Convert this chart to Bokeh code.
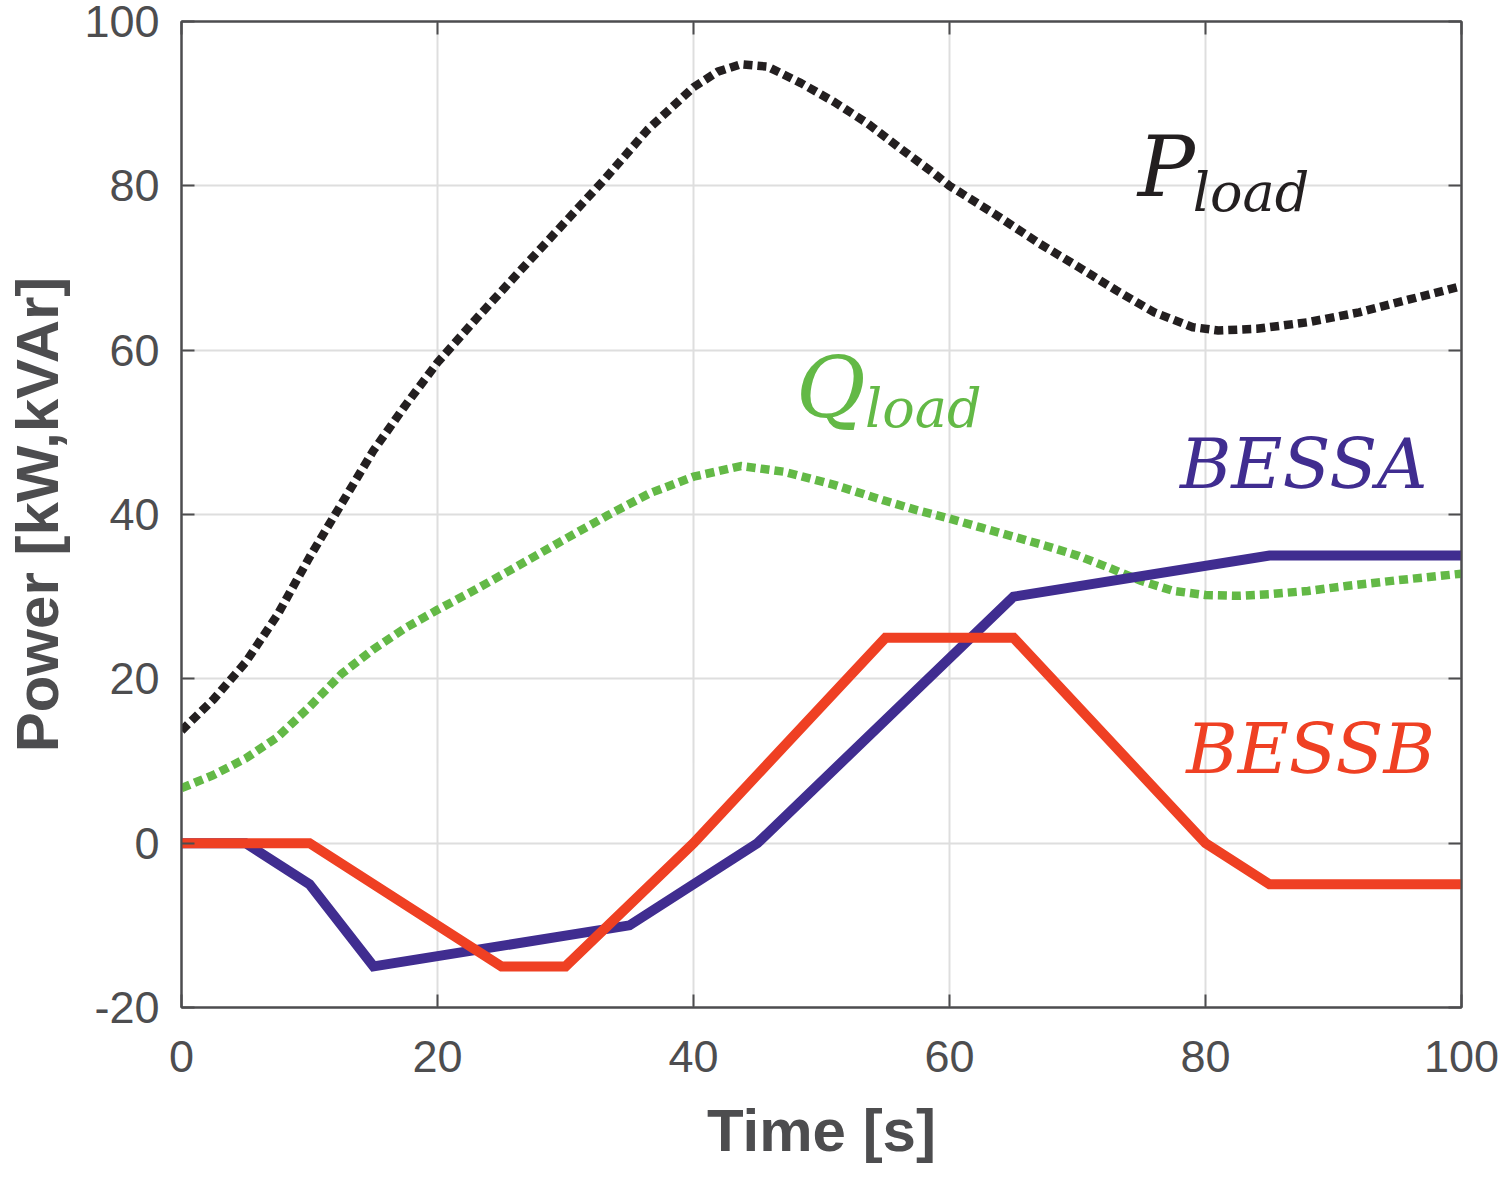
from bokeh.plotting import figure
from bokeh.models import LinearAxis, SingleIntervalTicker, Range1d, CustomJSTickFormatter
from bokeh.core.properties import value
from bokeh.embed import file_html
from bokeh.resources import INLINE

# ---- data ----
t_p = [0, 2.5, 5, 7.5, 10, 12.5, 15, 17.5, 20, 22.9, 26.3, 29.5, 33, 36.4, 40,
       41.9, 43.7, 45.8, 48.4, 51, 53.6, 56.2, 58.8, 60, 63.5, 67, 70, 73, 76, 79, 81, 84, 88, 92, 96, 100]
p_load = [13.7, 17.5, 22, 27.8, 34.8, 41.3, 47.8, 53.3, 58.5, 63.6, 69.4, 74.8, 80.7, 86.8, 92,
          93.9, 94.8, 94.5, 92.5, 90.2, 87.6, 84.5, 81.5, 80, 76.6, 73, 70.2, 67.3, 64.6, 62.8, 62.4, 62.6, 63.4, 64.6, 66.2, 67.8]

t_q = [0, 2.5, 5, 7.5, 10, 12.5, 15, 17.5, 20, 22.9, 26, 29.5, 33.3, 36.6, 40, 43.7, 47.1, 51, 54.9, 57.5,
       60, 62.5, 65, 67.5, 70, 72.5, 75, 77.5, 80, 82.5, 85, 88, 91, 95, 100]
q_load = [6.7, 8.3, 10.3, 12.9, 16.6, 20.6, 23.6, 26.2, 28.4, 30.8, 33.5, 36.6, 39.9, 42.6, 44.6, 45.9, 45.2, 43.6, 41.7, 40.5,
          39.5, 38.4, 37.3, 36.2, 35.0, 33.5, 31.9, 30.7, 30.2, 30.1, 30.3, 30.7, 31.3, 32, 32.8]

t_a = [0, 5, 10, 15, 35, 45, 65, 85, 100]
bess_a = [0, 0, -5, -15, -10, 0, 30, 35, 35]

t_b = [0, 10, 25, 30, 40, 55, 65, 80, 85, 100]
bess_b = [0, 0, -15, -15, 0, 25, 25, 0, -5, -5]

x_ticks_step = 20
y_ticks_step = 20
y_tick_label_overrides = {-20: "-20"}

C_P = "#231f20"
C_Q = "#63b946"
C_A = "#402d90"
C_B = "#ef4023"
AX = "#4d4d4f"

p = figure(width=1508, height=1177, frame_width=1280, frame_height=986,
           output_backend="svg", toolbar_location=None,
           x_range=Range1d(0, 100), y_range=Range1d(-20, 100),
           min_border_left=181, min_border_top=21, min_border_right=47, min_border_bottom=170)

p.background_fill_color = "white"
p.border_fill_color = "white"
p.outline_line_color = AX
p.outline_line_width = 2

def style_axis(ax):
    ax.axis_line_color = AX
    ax.axis_line_width = 2
    ax.major_tick_line_color = AX
    ax.major_tick_line_width = 2
    ax.major_tick_in = 13
    ax.major_tick_out = 0
    ax.minor_tick_line_color = None
    ax.major_label_text_color = AX
    ax.major_label_text_font = "Liberation Sans"
    ax.major_label_text_font_size = "45px"
    ax.axis_label_text_color = AX
    ax.axis_label_text_font = "Liberation Sans"
    ax.axis_label_text_font_style = "bold"
    ax.axis_label_text_font_size = "60px"

p.xaxis.ticker = SingleIntervalTicker(interval=x_ticks_step)
p.yaxis.ticker = SingleIntervalTicker(interval=y_ticks_step)
p.xaxis.axis_label = "Time [s]"
p.yaxis.axis_label = "Power [kW,kVAr]"
style_axis(p.xaxis[0])
style_axis(p.yaxis[0])
p.yaxis.major_label_overrides = y_tick_label_overrides
p.xaxis.major_label_standoff = 29
p.yaxis.major_label_standoff = 18
p.xaxis.axis_label_standoff = 22
p.yaxis.axis_label_standoff = 10

blank = CustomJSTickFormatter(code="return ''")
ra = LinearAxis(ticker=SingleIntervalTicker(interval=y_ticks_step), formatter=blank)
style_axis(ra)
ra.major_label_standoff = 0
p.add_layout(ra, "right")
ta = LinearAxis(ticker=SingleIntervalTicker(interval=x_ticks_step), formatter=blank)
style_axis(ta)
ta.major_label_standoff = 0
p.add_layout(ta, "above")

for g in (p.xgrid[0], p.ygrid[0]):
    g.grid_line_color = "#dedede"
    g.grid_line_width = 2
    g.ticker = SingleIntervalTicker(interval=20)

p.line(t_p, p_load, line_color=C_P, line_width=8.5, line_dash="9 5", line_cap="butt", line_join="round")
p.line(t_q, q_load, line_color=C_Q, line_width=8.5, line_dash="9 5", line_cap="butt", line_join="round")
p.line(t_a, bess_a, line_color=C_A, line_width=10, line_join="miter")
p.line(t_b, bess_b, line_color=C_B, line_width=10, line_join="miter")

SERIF = value("DejaVu Serif")
p.text(x=[74.7], y=[82.4], text=["P"], text_font=SERIF, text_font_style="italic",
       text_font_size="85px", text_color=C_P, text_baseline="alphabetic")
p.text(x=[79.0], y=[79.2], text=["load"], text_font=SERIF, text_font_style="italic",
       text_font_size="54px", text_color=C_P, text_baseline="alphabetic")
p.text(x=[48.0], y=[55.4], text=["Q"], text_font=SERIF, text_font_style="italic",
       text_font_size="85px", text_color=C_Q, text_baseline="alphabetic")
p.text(x=[53.4], y=[52.9], text=["load"], text_font=SERIF, text_font_style="italic",
       text_font_size="54px", text_color=C_Q, text_baseline="alphabetic")
p.text(x=[78.0], y=[46.1], text=["BESSA"], text_font=SERIF, text_font_style="italic",
       text_font_size="70px", text_color=C_A, text_baseline="alphabetic")
p.text(x=[78.5], y=[11.4], text=["BESSB"], text_font=SERIF, text_font_style="italic",
       text_font_size="70px", text_color=C_B, text_baseline="alphabetic")

open("out.html", "w").write(file_html(p, INLINE))
